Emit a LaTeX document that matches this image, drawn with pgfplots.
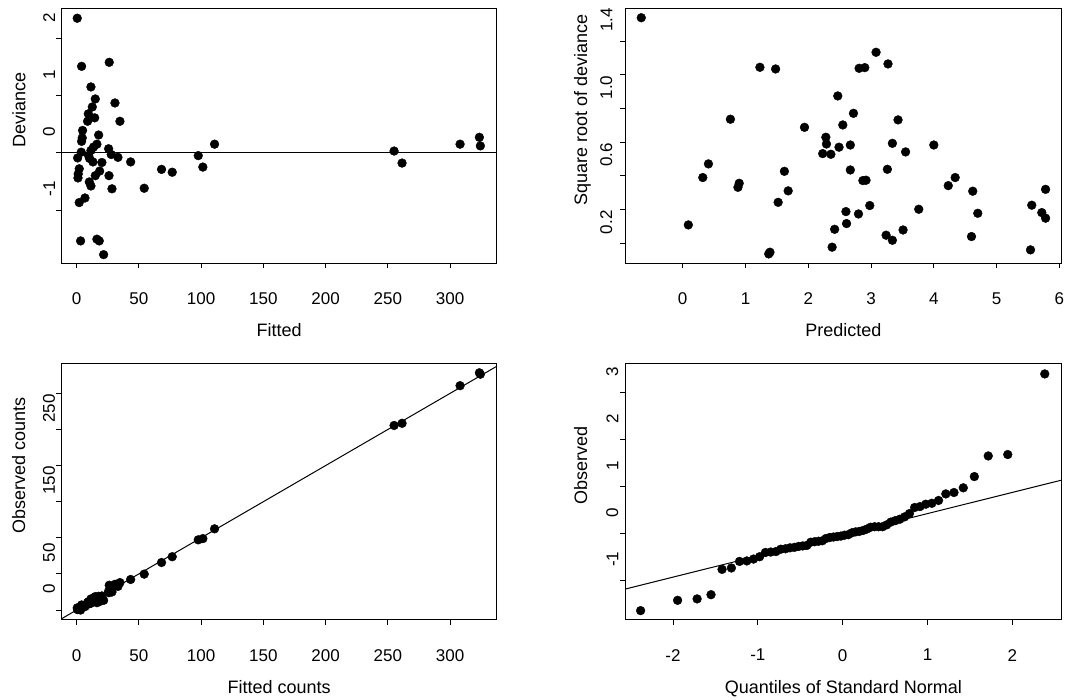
\documentclass[border=0pt]{standalone}
\usepackage{fontspec}
\setmainfont{Liberation Sans}
\usepackage{graphicx}
\usepackage{pgfplots}
\pgfplotsset{compat=1.18}

\newcommand{\rl}[1]{\rotatebox{90}{#1}}
\newcommand{\ticks}{\fontsize{17}{17}\selectfont}
\newcommand{\labs}{\fontsize{18}{18}\selectfont}

\pgfplotsset{
  rplot/.style={
    scale only axis,
    axis line style={line width=1pt},
    tick align=outside, tick pos=left,
    major tick length=5pt,
    tick style={line width=0.9pt, black},
    xticklabel style={anchor=north, inner sep=0pt, yshift=-24pt, font=\ticks},
    yticklabel style={anchor=east, inner sep=0pt, yshift=21pt, font=\ticks},
    xlabel style={at={(axis description cs:0.5,0)}, anchor=north, inner sep=0pt, yshift=-60pt, font=\labs},
    ylabel style={anchor=base, font=\labs},
  },
  pts/.style={only marks, mark=*, mark size=4.4pt,
    mark options={fill=black, draw=black, line width=0.4pt}},
  fitline/.style={black, line width=1pt, no marks},
}

\begin{document}
\begin{tikzpicture}
\path[use as bounding box] (0,0) rectangle (1079pt,700pt);

% top left: deviance against fitted
\begin{axis}[rplot, at={(61.3pt,436.7pt)}, anchor=south west,
  width=435.5pt, height=255pt,
  xmin=-12.3, xmax=337.5, ymin=-1.931, ymax=2.524,
  xtick={0,50,100,150,200,250,300},
  xticklabels={0,50,100,150,200,250,300},
  ytick={-1,0,1,2},
  yticklabels={\rl{-1},\rl{0},\rl{1},\rl{2}},
  yticklabel style={xshift=-1pt},
  xlabel={Fitted}, ylabel={Deviance},
  ylabel style={at={(axis description cs:-0.0826,0.602)}},
]
\addplot[fitline] coordinates {(-12.3,0) (337.5,0)};
\addplot[pts] coordinates {
(0.5,2.35) (4.0,1.51) (26.2,1.58) (11.5,1.15) (15.0,0.94) (12.6,0.80) (9.4,0.68)
(14.5,0.61) (8.8,0.55) (30.8,0.87) (34.8,0.55) (4.8,0.39) (4.5,0.26) (4.0,0.20)
(17.7,0.31) (16.3,0.15) (13.6,0.10) (11.5,0.04) (9.6,-0.05) (3.7,0.01) (0.8,-0.09)
(10.4,-0.10) (13.1,-0.16) (20.3,-0.17) (25.7,0.07) (27.8,-0.03) (33.2,-0.08)
(43.4,-0.16) (2.1,-0.28) (1.3,-0.37) (1.1,-0.44) (18.5,-0.32) (15.0,-0.40)
(26.0,-0.40) (10.2,-0.51) (11.5,-0.58) (28.4,-0.63) (54.3,-0.62) (68.2,-0.29)
(76.8,-0.34) (97.7,-0.05) (101.4,-0.25) (110.8,0.15) (255.0,0.03) (261.4,-0.18)
(308.0,0.15) (323.5,0.27) (324.3,0.12) (6.7,-0.79) (2.1,-0.87) (3.2,-1.54)
(16.3,-1.51) (18.2,-1.54) (21.7,-1.78)
};
\end{axis}

% top right: square root of deviance against predicted
\begin{axis}[rplot, at={(625pt,436.7pt)}, anchor=south west,
  width=436.7pt, height=255pt,
  xmin=-0.919, xmax=6.037, ymin=0.0814, ymax=1.594,
  xtick={0,1,2,3,4,5,6},
  xticklabels={0,1,2,3,4,5,6},
  ytick={0.2,0.4,0.6,0.8,1.0,1.2,1.4},
  yticklabels={\rl{0.2},{},\rl{0.6},{},\rl{1.0},{},\rl{1.4}},
  yticklabel style={xshift=-7.5pt},
  xlabel={Predicted}, ylabel={Square root of deviance},
  ylabel style={at={(axis description cs:-0.087,0.602)}},
]
\addplot[pts] coordinates {
(-0.66,1.538) (1.23,1.244) (1.48,1.234) (3.08,1.333) (3.27,1.264) (2.81,1.238)
(2.90,1.242) (2.47,1.074) (2.72,0.971) (0.76,0.936) (3.43,0.932) (1.94,0.888)
(2.55,0.902) (2.28,0.829) (2.29,0.789) (2.67,0.783) (2.49,0.770) (3.34,0.793)
(4.00,0.783) (2.23,0.732) (2.36,0.728) (3.55,0.742) (0.41,0.671) (0.32,0.590)
(0.90,0.556) (0.88,0.532) (1.62,0.627) (1.68,0.511) (2.67,0.635) (3.26,0.639)
(2.87,0.572) (2.92,0.574) (4.34,0.590) (4.23,0.542) (4.62,0.509) (5.78,0.520)
(1.52,0.443) (2.98,0.424) (2.60,0.388) (2.80,0.374) (3.76,0.402) (5.56,0.426)
(5.72,0.382) (5.78,0.349) (4.70,0.378) (0.09,0.309) (2.61,0.317) (2.42,0.283)
(3.51,0.279) (3.24,0.248) (3.34,0.218) (4.60,0.240) (2.38,0.177) (1.39,0.147)
(1.37,0.137) (5.54,0.161)
};
\end{axis}

% bottom left: observed against fitted counts
\begin{axis}[rplot, at={(61.3pt,80pt)}, anchor=south west,
  width=435.5pt, height=256.7pt,
  xmin=-12.3, xmax=337.5, ymin=-13.8, ymax=341.6,
  xtick={0,50,100,150,200,250,300},
  xticklabels={0,50,100,150,200,250,300},
  ytick={0,50,100,150,200,250,300},
  yticklabels={\rl{0},\rl{50},{},\rl{150},{},\rl{250},{}},
  yticklabel style={xshift=-1pt},
  xlabel={Fitted counts}, ylabel={Observed counts},
  ylabel style={at={(axis description cs:-0.0828,0.602)}},
]
\addplot[fitline] coordinates {(-13.8,-13.8) (341.6,341.6)};
\addplot[pts] coordinates {
(0.5,3) (4.0,7.0) (26.2,34.3) (11.5,15.4) (15.0,18.6) (12.6,15.4) (9.4,11.5)
(14.5,16.8) (8.8,10.4) (30.8,35.6) (34.8,38.0) (4.8,5.7) (4.5,5.1) (4.0,4.4)
(17.7,19.0) (16.3,16.9) (13.6,14.0) (11.5,11.6) (9.6,9.4) (3.7,3.7) (0.8,0.7)
(10.4,10.1) (13.1,12.5) (20.3,19.5) (25.7,26.1) (27.8,27.6) (33.2,32.7)
(43.4,42.3) (2.1,1.7) (1.3,0.9) (1.1,0.6) (18.5,17.1) (15.0,13.5) (26.0,24.0)
(10.2,8.6) (11.5,9.5) (28.4,25.0) (54.3,49.7) (68.2,65.8) (76.8,73.8)
(97.7,97.2) (101.4,98.9) (110.8,112.4) (255.0,255.5) (261.4,258.5)
(308.0,310.6) (323.5,328.4) (324.3,326.5) (6.7,4.7) (2.1,0.8) (3.2,0)
(16.3,10.2) (18.2,11.6) (21.7,13.4)
};
\end{axis}

% bottom right: normal quantile plot
\begin{axis}[rplot, at={(625pt,80pt)}, anchor=south west,
  width=436.7pt, height=256.7pt,
  xmin=-2.566, xmax=2.582, ymin=-1.85, ymax=3.627,
  xtick={-2,-1,0,1,2},
  xticklabels={-2,-1,0,1,2},
  ytick={-1,0,1,2,3},
  yticklabels={\rl{-1},\rl{0},\rl{1},\rl{2},\rl{3}},
  yticklabel style={xshift=-1.5pt},
  xlabel={Quantiles of Standard Normal}, ylabel={Observed},
  ylabel style={at={(axis description cs:-0.087,0.602)}},
]
\addplot[fitline] coordinates {(-2.566,-1.191) (2.582,1.135)};
\addplot[pts] coordinates {
(-2.382,-1.65) (-1.946,-1.43) (-1.716,-1.40) (-1.552,-1.31) (-1.422,-0.77)
(-1.312,-0.74) (-1.216,-0.60) (-1.130,-0.59) (-1.051,-0.55) (-0.979,-0.50)
(-0.911,-0.41) (-0.848,-0.40) (-0.787,-0.39) (-0.730,-0.34) (-0.674,-0.33)
(-0.621,-0.31) (-0.569,-0.30) (-0.519,-0.28) (-0.471,-0.27) (-0.423,-0.26)
(-0.376,-0.19) (-0.330,-0.18) (-0.285,-0.17) (-0.240,-0.16) (-0.196,-0.11)
(-0.152,-0.09) (-0.108,-0.08) (-0.065,-0.07) (-0.022,-0.06) (0.022,-0.04)
(0.065,-0.03) (0.108,0.01) (0.152,0.03) (0.196,0.04) (0.240,0.06) (0.285,0.09)
(0.330,0.13) (0.376,0.14) (0.423,0.14) (0.471,0.14) (0.519,0.18) (0.569,0.24)
(0.621,0.27) (0.674,0.30) (0.730,0.35) (0.787,0.42) (0.848,0.55) (0.911,0.57)
(0.979,0.62) (1.051,0.64) (1.130,0.70) (1.216,0.84) (1.312,0.87) (1.422,0.97)
(1.552,1.21) (1.716,1.65) (1.946,1.68) (2.382,3.40)
};
\end{axis}
\end{tikzpicture}
\end{document}
